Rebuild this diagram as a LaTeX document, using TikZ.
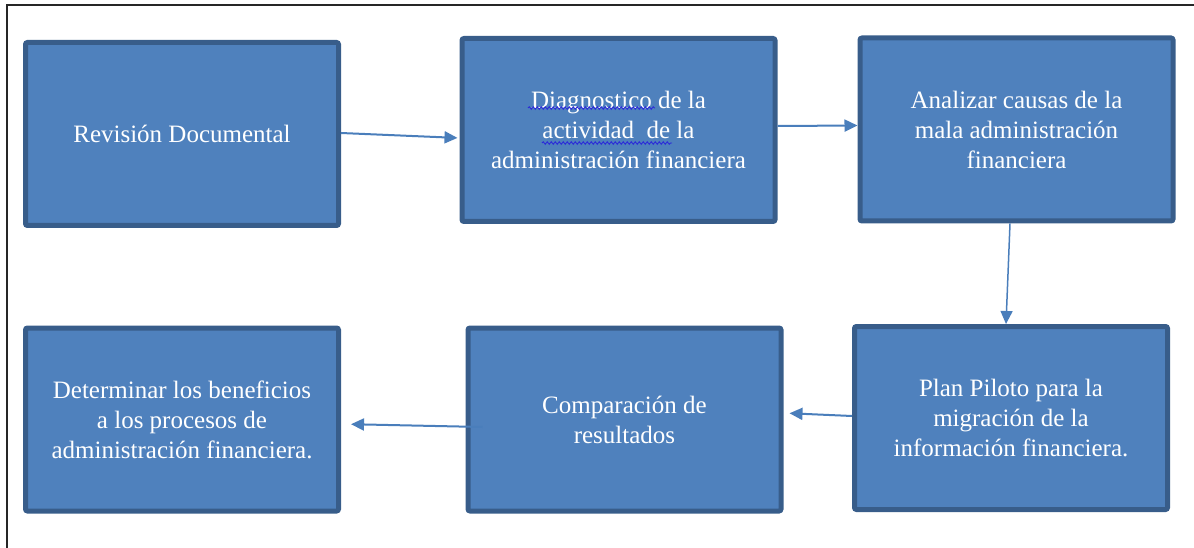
\documentclass[tikz,border=0pt]{standalone}
\usepackage{fontspec}
\setmainfont{Liberation Serif}
\usetikzlibrary{arrows.meta,decorations.pathmorphing}
\definecolor{boxfill}{HTML}{4F81BD}
\definecolor{boxline}{HTML}{385D8A}
\definecolor{arrowc}{HTML}{4A7EBB}
\definecolor{squig}{HTML}{2B2BD8}
\tikzset{
  stepbox/.style={draw=boxline, fill=boxfill, line width=5pt, rounded corners=2pt,
    minimum width=313pt, minimum height=183pt, text=white, align=center,
    font=\fontsize{25}{30}\selectfont, inner sep=0pt},
  flow/.style={draw=arrowc, line width=2pt, -{Triangle[length=13pt,width=12pt]}},
  spell/.style={draw=squig, line width=0.9pt, decorate,
    decoration={snake, amplitude=1.3pt, segment length=4pt}}
}
\begin{document}
\begin{tikzpicture}[x=1pt,y=-1pt]
\useasboundingbox (0,0) rectangle (1194,548);
\draw[line width=1.5pt, black!85] (7,548) -- (7,5) -- (1194,5);
\node[stepbox] (b1) at (182,134) {Revisión Documental};
\node[stepbox] (b2) at (618.5,130) {Diagnostico de la\\actividad\ \ de la\\administración financiera};
\node[stepbox] (b3) at (1016.5,129.5) {Analizar causas de la\\mala administración\\financiera};
\node[stepbox] (b4) at (1011,418) {Plan Piloto para la\\migración de la\\información financiera.};
\node[stepbox] (b5) at (624.5,419.5) {Comparación de\\resultados};
\node[stepbox] (b6) at (182,419.5) {Determinar los beneficios\\a los procesos de\\administración financiera.};
\draw[flow, shorten >=2pt] ([yshift=1pt]b1.east) -- ([yshift=-8pt]b2.west);
\draw[flow] ([yshift=4pt]b2.east) -- ([yshift=4pt]b3.west);
\draw[flow, line width=1.5pt] ([xshift=-6.5pt]b3.south) -- ([xshift=-5pt]b4.north);
\draw[flow, shorten >=6pt] ([yshift=2pt]b4.west) -- ([yshift=6.5pt]b5.east);
\draw[flow, shorten >=10pt] ([xshift=17pt,yshift=-7.5pt]b5.west) -- ([yshift=-4.5pt]b6.east);
\draw[spell] (528,108) -- (655,108);
\draw[spell] (542,143) -- (672,143);
\end{tikzpicture}
\end{document}
